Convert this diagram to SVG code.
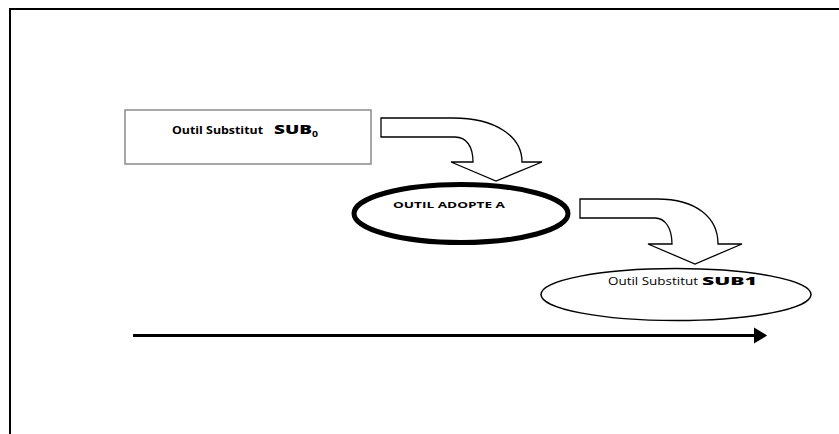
<svg xmlns="http://www.w3.org/2000/svg" width="839" height="434" viewBox="0 0 839 434">
  <style>
    .frame { stroke: #000; stroke-width: 2; fill: none; }
    .bend { fill: #fff; stroke: #000; stroke-width: 1.3; stroke-linejoin: miter; }
    .txt { font-family: "Open Sans", "Liberation Sans", Arial, sans-serif; fill: #000; }
    .b { font-weight: bold; }
    .xb { font-weight: 800; }
  </style>
  <defs>
    <marker id="head" markerWidth="5" markerHeight="5.4" refX="0" refY="2.7" orient="auto" markerUnits="strokeWidth">
      <path d="M0,0 L4.4,2.7 L0,5.4 Z" fill="#000"/>
    </marker>
  </defs>
  <rect width="839" height="434" fill="#fff"/>

  <!-- frame -->
  <path class="frame" d="M10,434 L10,9 L839,9"/>

  <!-- connectors -->
  <g id="connectors">
    <path id="bend-1" class="bend" d="M381,118 L453,118 C495,118 522,136 522,162 L542,162 L496,181 L451,162 L473,162 C473,146 466,137 455,137 L381,137 Z"/>
    <path id="bend-2" class="bend" d="M580,199 L657,199 C697,199 718,218 718,244 L742,244 L695,264 L648,244 L672,244 C672,228 665,218 655,218 L580,218 Z"/>
    <path id="timeline" d="M133,335.5 L754,335.5" stroke="#000" stroke-width="3" fill="none" marker-end="url(#head)"/>
  </g>

  <!-- substitute tool SUB0 -->
  <g id="sub0">
    <rect x="125" y="110" width="246" height="54" fill="#fff" stroke="#8a8a8a" stroke-width="1.5"/>
    <text class="txt b" x="172" y="134" font-size="10.5" textLength="91" lengthAdjust="spacingAndGlyphs">Outil Substitut</text>
    <text class="txt xb" x="274" y="134" font-size="12.5" textLength="38" lengthAdjust="spacingAndGlyphs">SUB</text>
    <text class="txt b" x="312" y="136.5" font-size="8.5" textLength="6" lengthAdjust="spacingAndGlyphs">0</text>
  </g>

  <!-- adopted tool A -->
  <g id="adopte-a">
    <ellipse cx="461" cy="213.5" rx="107" ry="29" fill="#fff" stroke="#000" stroke-width="5"/>
    <text class="txt b" x="393" y="208" font-size="9.5" textLength="112" lengthAdjust="spacingAndGlyphs">OUTIL ADOPTE A</text>
  </g>

  <!-- substitute tool SUB1 -->
  <g id="sub1">
    <ellipse cx="676" cy="294.5" rx="135" ry="26" fill="#fff" stroke="#000" stroke-width="1.5"/>
    <text class="txt" x="608" y="285" font-size="10" textLength="90" lengthAdjust="spacingAndGlyphs">Outil Substitut</text>
    <text class="txt xb" x="702" y="285" font-size="11" textLength="55" lengthAdjust="spacingAndGlyphs">SUB1</text>
  </g>
</svg>
